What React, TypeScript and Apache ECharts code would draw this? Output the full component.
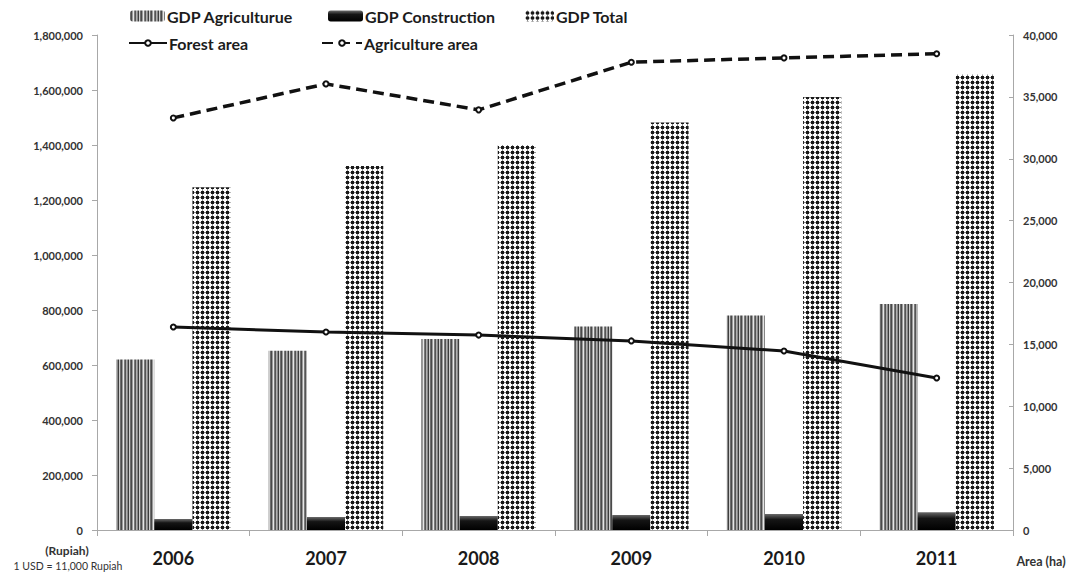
import React, { useEffect, useRef } from "react";
import * as echarts from "echarts";

const years = ["2006", "2007", "2008", "2009", "2010", "2011"];
const gdpAgriculture = [620000, 652000, 695000, 740000, 780000, 822000];
const gdpConstruction = [40000, 47000, 51000, 55000, 58000, 65000];
const gdpTotal = [1246000, 1324000, 1400000, 1482000, 1575000, 1656000];
const forestArea = [16400, 16000, 15750, 15280, 14460, 12280];
const agricultureArea = [33300, 36050, 33950, 37800, 38150, 38480];

const leftTicks = { min: 0, max: 1800000, interval: 200000 };
const rightTicks = { min: 0, max: 40000, interval: 5000 };

const FONT = "Lato, 'Open Sans', sans-serif";

// Vertical-stripe fill used for the agriculture bars
function stripeCanvas(): HTMLCanvasElement {
  const c = document.createElement("canvas");
  const cols = ["#6e6e6e", "#4a4a4a", "#9a9a9a", "#e6e6e6", "#7a7a7a", "#555555", "#b0b0b0", "#8a8a8a", "#3e3e3e", "#cfcfcf"];
  c.width = cols.length;
  c.height = 4;
  const ctx = c.getContext("2d")!;
  cols.forEach((col, i) => {
    ctx.fillStyle = col;
    ctx.fillRect(i, 0, 1, 4);
  });
  return c;
}

// Checkered dot fill used for the total bars
function checkerCanvas(): HTMLCanvasElement {
  const c = document.createElement("canvas");
  c.width = 5;
  c.height = 5;
  const ctx = c.getContext("2d")!;
  ctx.fillStyle = "#ffffff";
  ctx.fillRect(0, 0, 5, 5);
  ctx.fillStyle = "#8c8c8c";
  ctx.fillRect(0, 2, 5, 1);
  ctx.fillRect(2, 0, 1, 5);
  ctx.fillStyle = "#1a1a1a";
  ctx.fillRect(1, 1, 3, 3);
  return c;
}

export default function App() {
  const ref = useRef<HTMLDivElement>(null);

  useEffect(() => {
    if (!ref.current) return;
    const chart = echarts.init(ref.current, null, { renderer: "svg" });

    const stripeFill = { image: stripeCanvas(), repeat: "repeat" };
    const checkerFill = { image: checkerCanvas(), repeat: "repeat" };
    const constructionFill = new echarts.graphic.LinearGradient(0, 0, 0, 1, [
      { offset: 0, color: "#6a6a6a" },
      { offset: 0.35, color: "#151515" },
      { offset: 1, color: "#000000" },
    ]);

    const legendText = { fontFamily: FONT, fontWeight: "bold", fontSize: 16, color: "#1c1c1c" };
    const mkLegend = (name: string, left: number, top: number, w: number, h: number) => ({
      data: [name],
      left,
      top,
      padding: 0,
      itemWidth: w,
      itemHeight: h,
      itemGap: 0,
      selectedMode: false,
      textStyle: { ...legendText, padding: [0, 0, 0, -3] },
    });

    const axisLabel = { fontFamily: FONT, fontSize: 11, color: "#333", fontWeight: "bold" };

    chart.setOption({
      animation: false,
      backgroundColor: "#ffffff",
      legend: [
        mkLegend("GDP Agriculturue", 130, 8, 35, 11),
        mkLegend("GDP Construction", 328, 8, 35, 11),
        mkLegend("GDP Total", 525, 8, 29, 11),
        mkLegend("Forest area", 128, 35, 38, 7),
        mkLegend("Agriculture area", 321, 35, 40, 7),
      ],
      grid: { left: 97, right: 61, top: 35, bottom: 45 },
      xAxis: {
        type: "category",
        data: years,
        boundaryGap: true,
        axisLine: { lineStyle: { color: "#a8a8a8", width: 1 } },
        axisTick: { show: true, length: 6, lineStyle: { color: "#a8a8a8" } },
        axisLabel: { fontFamily: FONT, fontSize: 18, fontWeight: "bold", color: "#1a1a1a", margin: 19 },
      },
      yAxis: [
        {
          type: "value",
          ...leftTicks,
          position: "left",
          splitLine: { show: false },
          axisLine: { show: true, lineStyle: { color: "#a8a8a8" } },
          axisTick: { show: true, length: 5, lineStyle: { color: "#a8a8a8" } },
          axisLabel: {
            ...axisLabel,
            margin: 14,
            formatter: (v: number) => v.toLocaleString("en-US"),
          },
        },
        {
          type: "value",
          ...rightTicks,
          position: "right",
          splitLine: { show: false },
          axisLine: { show: true, lineStyle: { color: "#a8a8a8" } },
          axisTick: { show: true, inside: true, length: 4, lineStyle: { color: "#a8a8a8" } },
          axisLabel: {
            ...axisLabel,
            margin: 10,
            formatter: (v: number) => v.toLocaleString("en-US"),
          },
        },
      ],
      series: [
        {
          name: "GDP Agriculturue",
          type: "bar",
          data: gdpAgriculture,
          barGap: "0%",
          barCategoryGap: "25%",
          itemStyle: { color: stripeFill },
        },
        {
          name: "GDP Construction",
          type: "bar",
          data: gdpConstruction,
          itemStyle: { color: constructionFill },
        },
        {
          name: "GDP Total",
          type: "bar",
          data: gdpTotal,
          itemStyle: { color: checkerFill },
        },
        {
          name: "Forest area",
          type: "line",
          yAxisIndex: 1,
          data: forestArea,
          symbol: "emptyCircle",
          symbolSize: 5,
          lineStyle: { color: "#111", width: 3 },
          itemStyle: { color: "#111", borderWidth: 1.2, borderColor: "#111" },
          z: 5,
        },
        {
          name: "Agriculture area",
          type: "line",
          yAxisIndex: 1,
          data: agricultureArea,
          symbol: "emptyCircle",
          symbolSize: 5,
          lineStyle: { color: "#111", width: 3.5, type: [11, 6] },
          itemStyle: { color: "#111", borderWidth: 1.2, borderColor: "#111" },
          z: 5,
        },
      ],
      graphic: [
        {
          type: "text",
          x: 67,
          y: 550,
          style: {
            text: "(Rupiah)",
            fontFamily: FONT,
            fontSize: 12,
            fontWeight: "bold",
            fill: "#333",
            align: "center",
            verticalAlign: "middle",
          },
        },
        {
          type: "text",
          x: 68,
          y: 566,
          style: {
            text: "1 USD = 11,000 Rupiah",
            fontFamily: FONT,
            fontSize: 10.5,
            fill: "#333",
            align: "center",
            verticalAlign: "middle",
          },
        },
        {
          type: "text",
          x: 1041,
          y: 561,
          style: {
            text: "Area (ha)",
            fontFamily: FONT,
            fontSize: 12.5,
            fontWeight: "bold",
            fill: "#333",
            align: "center",
            verticalAlign: "middle",
          },
        },
      ],
    });

    return () => chart.dispose();
  }, []);

  return <div ref={ref} style={{ width: 1074, height: 575, position: "absolute", left: 0, top: 0 }} />;
}
